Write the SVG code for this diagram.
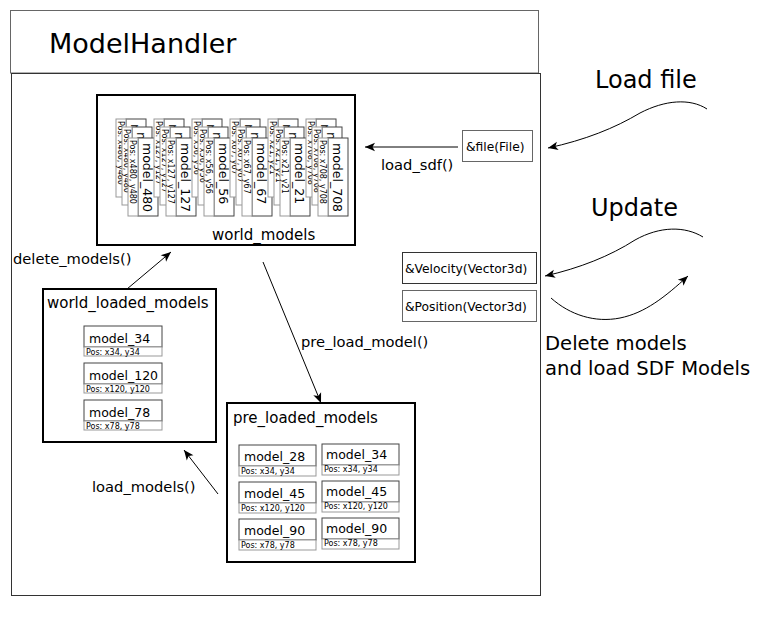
<svg xmlns="http://www.w3.org/2000/svg" width="780" height="638" viewBox="0 0 780 638">
<style>
text{font-family:"DejaVu Sans","Liberation Sans",sans-serif;fill:#000}
.box{fill:#fff;stroke:#000;stroke-width:2}
.cm{fill:#fff;stroke:#444;stroke-width:1}
.cp{fill:#fff;stroke:#999;stroke-width:1}
.mt{font-size:12.5px}
.pt{font-size:8px}
.lbl{font-size:15px}
.con{fill:none;stroke:#000;stroke-width:1}
.cl{font-size:14.7px}
.pb{fill:#fff;stroke:#666;stroke-width:1}
.pbt{font-size:12.3px}
</style>
<defs>
<marker id="ah" viewBox="-11 -5 12 10" refX="0" refY="0" markerWidth="12" markerHeight="10" markerUnits="userSpaceOnUse" orient="auto">
<path d="M0,0 L-10,-4.2 L-7.5,0 L-10,4.2 Z" fill="#000"/>
</marker>
<g id="rc">
<rect class="cm" x="0" y="0" width="78" height="20"/>
<rect class="cp" x="0" y="20" width="78" height="10"/>
</g>
</defs>
<rect width="780" height="638" fill="#fff"/>

<g id="header">
<rect x="10.5" y="10.5" width="528" height="62.5" fill="#fff" stroke="#666"/>
<text x="49" y="53" style="font-size:27px">ModelHandler</text>
</g>
<g id="body">
<rect x="11.5" y="73.5" width="529" height="522" fill="#fff" stroke="#333"/>
</g>

<g id="world_models">
<rect class="box" x="97" y="95" width="258" height="150"/>
<text class="lbl" x="212" y="240">world_models</text>
<g id="stack_480">
<g transform="translate(146,119) rotate(90)"><use href="#rc"/><text class="mt" x="5" y="15">model_480</text><text class="pt" x="2" y="28">Pos: x480, y480</text></g>
<g transform="translate(152,127) rotate(90)"><use href="#rc"/><text class="mt" x="5" y="15">model_480</text><text class="pt" x="2" y="28">Pos: x480, y480</text></g>
<g transform="translate(158,138) rotate(90)"><use href="#rc"/><text class="mt" x="5" y="15">model_480</text><text class="pt" x="2" y="28">Pos: x480, y480</text></g>
</g>
<g id="stack_127">
<g transform="translate(184,119) rotate(90)"><use href="#rc"/><text class="mt" x="5" y="15">model_127</text><text class="pt" x="2" y="28">Pos: x127, y127</text></g>
<g transform="translate(190,127) rotate(90)"><use href="#rc"/><text class="mt" x="5" y="15">model_127</text><text class="pt" x="2" y="28">Pos: x127, y127</text></g>
<g transform="translate(196,138) rotate(90)"><use href="#rc"/><text class="mt" x="5" y="15">model_127</text><text class="pt" x="2" y="28">Pos: x127, y127</text></g>
</g>
<g id="stack_56">
<g transform="translate(222,119) rotate(90)"><use href="#rc"/><text class="mt" x="5" y="15">model_56</text><text class="pt" x="2" y="28">Pos: x56, y56</text></g>
<g transform="translate(228,127) rotate(90)"><use href="#rc"/><text class="mt" x="5" y="15">model_56</text><text class="pt" x="2" y="28">Pos: x56, y56</text></g>
<g transform="translate(234,138) rotate(90)"><use href="#rc"/><text class="mt" x="5" y="15">model_56</text><text class="pt" x="2" y="28">Pos: x56, y56</text></g>
</g>
<g id="stack_67">
<g transform="translate(260,119) rotate(90)"><use href="#rc"/><text class="mt" x="5" y="15">model_67</text><text class="pt" x="2" y="28">Pos: x67, y67</text></g>
<g transform="translate(266,127) rotate(90)"><use href="#rc"/><text class="mt" x="5" y="15">model_67</text><text class="pt" x="2" y="28">Pos: x67, y67</text></g>
<g transform="translate(272,138) rotate(90)"><use href="#rc"/><text class="mt" x="5" y="15">model_67</text><text class="pt" x="2" y="28">Pos: x67, y67</text></g>
</g>
<g id="stack_21">
<g transform="translate(298,119) rotate(90)"><use href="#rc"/><text class="mt" x="5" y="15">model_21</text><text class="pt" x="2" y="28">Pos: x21, y21</text></g>
<g transform="translate(304,127) rotate(90)"><use href="#rc"/><text class="mt" x="5" y="15">model_21</text><text class="pt" x="2" y="28">Pos: x21, y21</text></g>
<g transform="translate(310,138) rotate(90)"><use href="#rc"/><text class="mt" x="5" y="15">model_21</text><text class="pt" x="2" y="28">Pos: x21, y21</text></g>
</g>
<g id="stack_708">
<g transform="translate(336,119) rotate(90)"><use href="#rc"/><text class="mt" x="5" y="15">model_708</text><text class="pt" x="2" y="28">Pos: x708, y708</text></g>
<g transform="translate(342,127) rotate(90)"><use href="#rc"/><text class="mt" x="5" y="15">model_708</text><text class="pt" x="2" y="28">Pos: x708, y708</text></g>
<g transform="translate(348,138) rotate(90)"><use href="#rc"/><text class="mt" x="5" y="15">model_708</text><text class="pt" x="2" y="28">Pos: x708, y708</text></g>
</g>
</g>

<g id="world_loaded_models">
<rect class="box" x="43" y="289" width="173" height="153"/>
<text class="lbl" x="47" y="308">world_loaded_models</text>
<g transform="translate(84,326)"><rect class="cm" width="78" height="21"/><rect class="cp" y="21" width="78" height="9"/><text class="mt" x="5" y="17">model_34</text><text class="pt" x="2" y="28.5">Pos: x34, y34</text></g>
<g transform="translate(84,363)"><rect class="cm" width="78" height="21"/><rect class="cp" y="21" width="78" height="9"/><text class="mt" x="5" y="17">model_120</text><text class="pt" x="2" y="28.5">Pos: x120, y120</text></g>
<g transform="translate(84,400)"><rect class="cm" width="78" height="21"/><rect class="cp" y="21" width="78" height="9"/><text class="mt" x="5" y="17">model_78</text><text class="pt" x="2" y="28.5">Pos: x78, y78</text></g>
</g>

<g id="pre_loaded_models">
<rect class="box" x="227" y="403" width="188" height="159"/>
<text class="lbl" x="233" y="423">pre_loaded_models</text>
<g transform="translate(239,445)"><rect class="cm" width="77" height="21"/><rect class="cp" y="21" width="77" height="10"/><text class="mt" x="5" y="16">model_28</text><text class="pt" x="2" y="29">Pos: x34, y34</text></g>
<g transform="translate(239,482)"><rect class="cm" width="77" height="21"/><rect class="cp" y="21" width="77" height="10"/><text class="mt" x="5" y="16">model_45</text><text class="pt" x="2" y="29">Pos: x120, y120</text></g>
<g transform="translate(239,519)"><rect class="cm" width="77" height="21"/><rect class="cp" y="21" width="77" height="10"/><text class="mt" x="5" y="16">model_90</text><text class="pt" x="2" y="29">Pos: x78, y78</text></g>
<g transform="translate(322,444)"><rect class="cm" width="77" height="21"/><rect class="cp" y="21" width="77" height="10"/><text class="mt" x="4" y="15">model_34</text><text class="pt" x="2" y="28">Pos: x34, y34</text></g>
<g transform="translate(322,481)"><rect class="cm" width="77" height="21"/><rect class="cp" y="21" width="77" height="10"/><text class="mt" x="4" y="15">model_45</text><text class="pt" x="2" y="28">Pos: x120, y120</text></g>
<g transform="translate(322,518)"><rect class="cm" width="77" height="21"/><rect class="cp" y="21" width="77" height="10"/><text class="mt" x="4" y="15">model_90</text><text class="pt" x="2" y="28">Pos: x78, y78</text></g>
</g>

<g id="file_param">
<rect class="pb" x="462.5" y="130.5" width="70" height="31"/>
<text class="pbt" x="466" y="151">&amp;file(File)</text>
</g>
<g id="velocity_param">
<rect x="402.5" y="252.5" width="134" height="31" fill="#fff" stroke="#333"/>
<text class="pbt" x="405" y="273">&amp;Velocity(Vector3d)</text>
</g>
<g id="position_param">
<rect class="pb" x="402.5" y="290.5" width="134" height="31"/>
<text class="pbt" x="405" y="311">&amp;Position(Vector3d)</text>
</g>

<g id="annotations">
<text x="595" y="88" style="font-size:24px">Load file</text>
<text x="591" y="216" style="font-size:24px">Update</text>
<text x="545" y="350" style="font-size:19.6px">Delete models</text>
<text x="545" y="375" style="font-size:19.6px">and load SDF Models</text>
</g>

<g id="connectors">
<line class="con" x1="458" y1="147" x2="365" y2="147" marker-end="url(#ah)"/>
<text class="cl" x="381" y="170">load_sdf()</text>
<line class="con" x1="127" y1="289" x2="171" y2="252" marker-end="url(#ah)"/>
<text class="cl" x="13" y="264">delete_models()</text>
<line class="con" x1="263" y1="262" x2="321" y2="403" marker-end="url(#ah)"/>
<text class="cl" x="301" y="347">pre_load_model()</text>
<line class="con" x1="218" y1="494" x2="184" y2="450" marker-end="url(#ah)"/>
<text class="cl" x="92" y="492">load_models()</text>
<path class="con" d="M707,109 C690,98 665,100 640,113 C615,128 585,140 548,148" marker-end="url(#ah)"/>
<path class="con" d="M703,237 C685,226 660,226 635,240 C610,256 580,268 545,276" marker-end="url(#ah)"/>
<path class="con" d="M551,298 C570,315 595,323 620,318 C645,313 665,297 688,276" marker-end="url(#ah)"/>
</g>
</svg>
